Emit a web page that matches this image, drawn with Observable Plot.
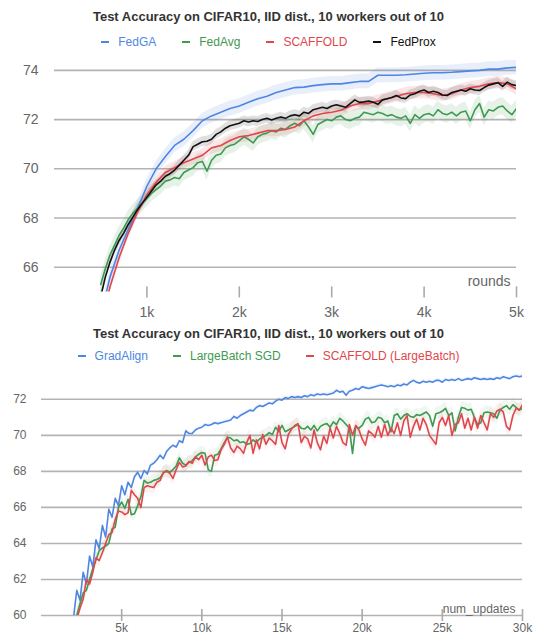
<!DOCTYPE html>
<html><head><meta charset="utf-8">
<script src="https://cdn.jsdelivr.net/npm/d3@7"></script>
<script src="https://cdn.jsdelivr.net/npm/@observablehq/plot@0.6"></script>
<style>
body{margin:0;background:#fff;font-family:"Liberation Sans",Arial,Helvetica,sans-serif;}
#wrap{position:relative;width:535px;height:638px;overflow:hidden;}
.title{position:absolute;left:0;width:537px;font-weight:bold;font-size:13px;line-height:16px;color:#333;text-align:center;}
.legend{position:absolute;left:0;width:537px;display:flex;justify-content:center;gap:26px;font-size:12px;line-height:16px;}
.legend .sw{display:inline-block;width:8px;height:2px;margin-right:9px;vertical-align:middle;position:relative;top:-1px;}
.panel{position:absolute;left:0;}
svg{display:block;}
</style></head><body><div id="wrap">
<div class="title" style="top:9px">Test Accuracy on CIFAR10, IID dist., 10 workers out of 10</div>
<div class="legend" id="leg1" style="top:34px"></div>
<div class="panel" id="p1" style="top:55px"></div>
<div class="title" style="top:326px">Test Accuracy on CIFAR10, IID dist., 10 workers out of 10</div>
<div class="legend" id="leg2" style="top:348px;gap:25px"></div>
<div class="panel" id="p2" style="top:366px"></div>
</div>
<script>
// ---------- Panel 1 data (x = rounds) ----------
const topNames = ["FedGA", "FedAvg", "SCAFFOLD", "FedProx"];
const topColors = ["#4f86e3", "#3f9950", "#e0474c", "#111111"];
const topXTicks = [1000, 2000, 3000, 4000, 5000];
const topYTicks = [66, 68, 70, 72, 74];
const rounds100 = d3.range(500, 5001, 100);
const rounds50 = d3.range(500, 5001, 50);
const fedGA = [64.0,65.6,66.7,67.55,68.4,69.3,70.0,70.5,70.95,71.2,
 71.55,71.95,72.15,72.3,72.45,72.55,72.7,72.85,72.95,73.1,
 73.2,73.3,73.32,73.38,73.42,73.45,73.45,73.5,73.55,73.55,
 73.8,73.8,73.8,73.82,73.85,73.88,73.9,73.9,73.92,73.95,
 73.98,74.0,74.05,74.05,74.1,74.12];
const scaffold = [63.5,65.2,66.4,67.4,68.25,68.95,69.45,69.85,70.05,70.25,
 70.4,70.55,70.85,70.95,71.15,71.3,71.35,71.45,71.55,71.55,
 71.6,71.7,71.95,72.15,72.25,72.3,72.38,72.55,72.65,72.65,
 72.75,72.85,72.95,73.05,73.1,73.1,73.05,72.98,73.05,73.2,
 73.3,73.35,73.45,73.5,73.45,73.25];
const fedProx = [64.8,65.6,66.2,66.7,67.1,67.4,67.75,68.05,68.35,68.6,
 68.85,69.1,69.35,69.5,69.7,69.8,69.95,70.15,70.35,70.55,
 70.9,71.0,71.1,71.12,71.2,71.4,71.5,71.65,71.75,71.8,
 71.85,71.95,71.9,71.95,71.92,72.0,72.05,71.98,72.05,72.1,
 72.05,72.15,72.2,72.15,72.3,72.25,72.4,72.45,72.5,72.45,
 72.55,72.6,72.55,72.5,72.65,72.8,72.7,72.72,72.75,72.7,
 72.62,72.8,72.85,72.9,72.98,72.88,72.85,73.0,73.05,73.15,
 73.2,73.1,73.15,73.1,73.0,72.98,73.1,73.15,73.2,73.15,
 73.25,73.2,73.18,73.3,73.4,73.45,73.5,73.35,73.52,73.42,
 73.38];
const fedAvg = [65.3,65.95,66.5,66.9,67.3,67.6,67.95,68.2,68.4,68.6,
 68.8,69.0,69.15,69.3,69.5,69.55,69.65,69.6,69.85,69.95,
 70.05,70.25,70.3,69.9,70.35,70.55,70.6,70.85,70.95,71.0,
 71.15,71.3,71.2,71.05,71.3,71.4,71.45,71.55,71.5,71.65,
 71.6,71.75,71.85,71.75,71.95,71.7,71.4,71.8,71.9,72.0,
 71.95,72.1,72.15,72.0,71.95,72.05,72.1,72.3,72.25,72.2,
 72.3,72.25,72.15,72.2,72.1,72.05,72.15,71.85,72.2,72.05,
 72.2,72.25,72.15,72.4,72.25,72.2,72.3,72.15,72.3,72.35,
 71.95,72.4,72.65,72.1,72.4,72.35,72.5,72.55,72.35,72.2,
 72.45];
const topBandHalf = [0.3, 0.35, 0.25, 0.2]; // spread of the shaded runs

// ---------- Panel 2 data (x = num_updates) ----------
const botNames = ["GradAlign", "LargeBatch SGD", "SCAFFOLD (LargeBatch)"];
const botColors = ["#4f86e3", "#3f9950", "#e0474c"];
const botXTicks = [5000, 10000, 15000, 20000, 25000, 30000];
const botYTicks = [60, 62, 64, 66, 68, 70, 72];
const updates = d3.range(2000, 30001, 200);
const gradAlign = [59.9,61.4,60.85,62.4,61.75,63.3,62.7,64.2,63.7,65.0,
 64.35,65.9,65.45,66.5,66.1,67.2,66.7,67.4,67.1,67.7,
 67.95,67.6,68.05,67.85,68.35,68.45,68.65,68.9,68.7,69.1,
 69.3,69.45,69.35,69.7,69.6,70.25,70.1,70.1,70.3,70.4,
 70.45,70.6,70.55,70.6,70.7,70.65,70.7,70.75,70.8,70.85,
 71.05,70.95,71.1,71.2,71.3,71.4,71.35,71.55,71.65,71.6,
 71.7,71.8,71.75,71.9,72.0,71.95,72.1,72.05,72.15,72.1,
 72.15,72.1,72.2,72.15,72.25,72.2,72.3,72.25,72.3,72.25,
 72.3,72.35,72.5,72.4,72.45,72.22,72.45,72.5,72.6,72.55,
 72.7,72.65,72.6,72.65,72.7,72.75,72.8,72.75,72.7,72.75,
 72.7,72.8,72.75,72.85,72.8,72.95,73.05,72.95,72.9,73.0,
 72.95,73.0,72.95,73.05,73.05,72.95,73.1,73.05,73.1,73.05,
 73.15,73.05,73.1,73.15,73.1,73.2,73.15,73.1,73.15,73.1,
 73.15,73.1,73.2,73.15,73.25,73.2,73.15,73.25,73.3,73.25,
 73.3];
const largeBatch = [59.5,60.0,60.65,61.25,61.4,62.0,62.6,63.1,63.6,63.75,
 63.85,64.0,64.8,64.9,66.0,66.3,65.95,66.45,65.6,65.65,
 66.1,66.6,67.5,67.35,67.4,67.5,67.55,67.65,67.9,68.05,
 67.95,68.1,68.3,68.75,68.45,68.35,68.5,68.6,68.8,68.95,
 69.05,69.0,68.1,68.0,68.9,68.95,69.25,69.6,69.9,69.85,
 69.7,69.75,69.6,69.65,69.5,69.55,69.75,69.6,69.8,69.9,
 70.0,70.15,70.05,70.45,70.2,70.55,70.2,70.3,70.4,70.5,
 70.6,70.4,70.35,70.5,70.3,70.55,70.25,70.5,70.6,70.65,
 70.45,70.75,70.6,70.95,70.8,70.6,70.4,69.0,70.5,70.4,
 70.55,70.9,71.0,70.7,70.75,71.0,70.95,70.7,70.8,70.2,
 71.1,71.2,70.9,71.1,71.2,71.05,71.0,71.15,71.1,71.2,
 71.3,71.1,70.5,71.2,71.25,71.35,71.5,71.1,71.25,70.25,
 71.0,71.55,71.5,71.4,71.45,71.0,70.6,70.7,71.25,71.3,
 71.25,71.2,70.95,71.4,71.55,71.65,71.45,71.7,71.55,71.4,
 71.5];
const scaffoldLB = [59.3,59.8,60.4,60.9,62.0,61.75,62.4,63.2,63.05,63.5,
 64.0,64.5,64.6,65.35,65.8,65.75,65.6,65.7,66.95,66.7,
 66.5,66.0,67.1,67.2,67.15,67.1,67.4,67.5,67.95,68.0,
 67.9,67.6,68.1,68.5,68.25,68.3,68.55,68.45,68.8,68.65,
 68.9,68.35,68.8,68.9,68.6,68.65,69.2,69.5,69.9,69.3,
 69.05,69.4,69.25,69.0,69.6,70.0,69.0,69.75,69.25,70.05,
 69.5,69.85,69.7,69.5,70.55,69.6,69.25,70.05,70.35,70.55,
 70.65,69.6,69.95,69.8,69.3,70.3,69.6,69.2,69.95,69.55,
 70.4,69.85,70.5,70.1,69.6,69.45,70.6,70.0,70.55,70.3,
 69.8,69.45,70.25,70.1,69.9,70.5,69.9,70.6,70.0,70.4,
 70.1,70.7,70.0,70.8,71.1,69.9,70.5,70.9,70.3,70.95,
 70.6,70.0,69.75,69.5,70.7,71.0,70.55,71.1,70.0,70.6,
 70.7,71.2,70.4,70.95,70.3,71.0,70.4,71.1,70.7,70.3,
 71.2,71.0,71.35,71.45,71.3,70.5,70.3,71.1,71.5,71.4,
 71.7];
const botBandHalf = [0.1, 0.35, 0.35];

// ---------- build ----------
function toRows(xs, ys, half) {
  return xs.map((x, i) => ({x, y: ys[i], lo: ys[i] - half, hi: ys[i] + half}));
}
const topSeries = [
  toRows(rounds100, fedGA, topBandHalf[0]),
  toRows(rounds50, fedAvg, topBandHalf[1]),
  toRows(rounds100, scaffold, topBandHalf[2]),
  toRows(rounds50, fedProx, topBandHalf[3])
];
const botSeries = [
  toRows(updates, gradAlign, botBandHalf[0]),
  toRows(updates, largeBatch, botBandHalf[1]),
  toRows(updates, scaffoldLB, botBandHalf[2])
];

function legend(el, names, colors) {
  const box = document.getElementById(el);
  names.forEach((n, i) => {
    const it = document.createElement("div");
    it.style.color = colors[i];
    it.innerHTML = `<span class="sw" style="background:${colors[i]}"></span>${n}`;
    box.appendChild(it);
  });
}
legend("leg1", topNames, topColors);
legend("leg2", botNames, botColors);

function panel(cfg) {
  const marks = [
    Plot.gridY(cfg.yTicks, {stroke: "#b3b3b3", strokeOpacity: 1, strokeWidth: 1.6})
  ];
  cfg.series.forEach((rows, i) => {
    marks.push(Plot.areaY(rows, {x: "x", y1: "lo", y2: "hi", fill: cfg.colors[i], fillOpacity: cfg.bandOpacity, clip: true, curve: "linear"}));
  });
  cfg.series.forEach((rows, i) => {
    marks.push(Plot.lineY(rows, {x: "x", y: "y", stroke: cfg.colors[i], strokeWidth: 1.6, clip: true}));
  });
  marks.push(Plot.axisY(cfg.yTicks, {tickSize: 0, tickPadding: cfg.yPad, label: null, fontSize: cfg.fontSize}));
  marks.push(Plot.axisX(cfg.xTicks, {tickSize: cfg.tickSize, tickPadding: cfg.tickPad, dy: cfg.tickDy, label: null,
    tickFormat: d => d / 1000 + "k", stroke: "#aaa", strokeWidth: 1.6, fontSize: cfg.fontSize}));
  marks.push(Plot.text([cfg.xLabel], {frameAnchor: "bottom-right", textAnchor: "end", lineAnchor: "bottom",
    dx: cfg.lblDx, dy: cfg.lblDy, fill: "#666", fontSize: cfg.fontSize}));
  return Plot.plot({
    width: 535, height: cfg.height,
    marginLeft: cfg.ml, marginRight: cfg.mr, marginTop: cfg.mt, marginBottom: cfg.mb,
    x: {domain: cfg.xDomain},
    y: {domain: cfg.yDomain},
    style: {fontFamily: "'Liberation Sans', Arial, Helvetica, sans-serif", fontSize: cfg.fontSize + "px", color: "#666", background: "white"},
    marks
  });
}

document.getElementById("p1").appendChild(panel({
  height: 265, ml: 54, mr: 19, mt: 5, mb: 28.6,
  xDomain: [0, 5000], yDomain: [65, 74.4], yTicks: topYTicks, xTicks: topXTicks,
  series: topSeries, colors: topColors, bandOpacity: 0.13,
  fontSize: 14, yPad: 16, tickSize: 11, tickDy: -5, tickPad: 9,
  xLabel: "rounds", lblDx: -6, lblDy: -6
}));
document.getElementById("p2").appendChild(panel({
  height: 272, ml: 41, mr: 13, mt: 4, mb: 23,
  xDomain: [0, 30000], yDomain: [60, 73.6], yTicks: botYTicks, xTicks: botXTicks,
  series: botSeries, colors: botColors, bandOpacity: 0.08,
  fontSize: 12, yPad: 15, tickSize: 12, tickDy: -6, tickPad: 2,
  xLabel: "num_updates", lblDx: -7, lblDy: -3
}));
</script></body></html>
